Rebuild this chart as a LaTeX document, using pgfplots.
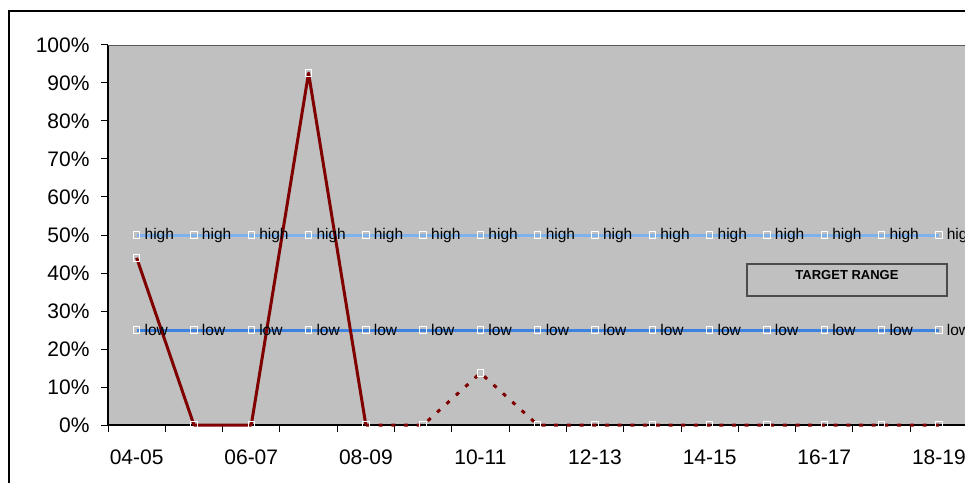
\documentclass[border=0pt]{standalone}
\usepackage{pgfplots}
\pgfplotsset{compat=1.18}
\usepackage{fontspec}
\setmainfont{Liberation Sans}
\definecolor{plotgray}{RGB}{192,192,192}
\definecolor{darkred}{RGB}{128,0,0}
\definecolor{highblue}{RGB}{125,178,236}
\definecolor{lowblue}{RGB}{60,130,225}
\begin{document}
\begin{tikzpicture}[x=1pt,y=1pt]
\path[use as bounding box] (0,0) rectangle (965,482);
\clip (0,0) rectangle (965,482);
\fill[white] (0,0) rectangle (965,482);
\draw[black, line width=2pt] (9,-20) rectangle (1100,471);
\begin{axis}[
  at={(108pt,57pt)}, anchor=south west,
  scale only axis, width=859.5pt, height=380pt,
  xmin=-0.5, xmax=14.5, ymin=0, ymax=100,
  clip=false,
  axis x line*=bottom, axis y line*=left,
  axis line style={black, line width=1.3pt},
  axis background/.style={fill=plotgray},
  tick align=outside,
  major tick length=7pt,
  tick style={black, line width=1pt},
  xtick={-0.5,0.5,...,14.5},
  xticklabels={},
  extra x ticks={0,2,4,6,8,10,12,14},
  extra x tick labels={04-05,06-07,08-09,10-11,12-13,14-15,16-17,18-19},
  extra x tick style={major tick length=0pt, tick label style={yshift=-21pt, text height=15pt, text depth=0pt}},
  ytick={0,10,...,100},
  yticklabel={\pgfmathprintnumber{\tick}\%},
  yticklabel style={xshift=-8pt},
  /pgf/number format/assume math mode=true,
  tick label style={font=\fontsize{21}{25}\selectfont},
  every axis plot/.append style={line join=round},
]
% high
\addplot[highblue, line width=3pt, mark=square, mark size=3.2pt,
  mark options={draw=white, fill=none, line width=1pt, solid},
  nodes near coords={high}, every node near coord/.style={anchor=west, xshift=7.5pt, inner sep=0pt, font=\fontsize{15.5}{18}\selectfont, text=black}]
  coordinates {(0,50)(1,50)(2,50)(3,50)(4,50)(5,50)(6,50)(7,50)(8,50)(9,50)(10,50)(11,50)(12,50)(13,50)(14,50)};
% low
\addplot[lowblue, line width=3pt, mark=square, mark size=3.2pt,
  mark options={draw=white, fill=none, line width=1pt, solid},
  nodes near coords={low}, every node near coord/.style={anchor=west, xshift=7.5pt, inner sep=0pt, font=\fontsize{15.5}{18}\selectfont, text=black}]
  coordinates {(0,25)(1,25)(2,25)(3,25)(4,25)(5,25)(6,25)(7,25)(8,25)(9,25)(10,25)(11,25)(12,25)(13,25)(14,25)};
% red dotted
\addplot[darkred, line width=3pt, dash pattern=on 4pt off 8.7pt, mark=square, mark size=3.2pt,
  mark options={draw=white, fill=none, line width=1pt, solid}]
  coordinates {(4,0)(5,0)(6,13.7)(7,0)(8,0)(9,0)(10,0)(11,0)(12,0)(13,0)(14,0)};
% red solid
\addplot[darkred, line width=3pt, mark=square, mark size=3.2pt,
  mark options={draw=white, fill=none, line width=1pt, solid}]
  coordinates {(0,44)(1,0)(2,0)(3,92.6)(4,0)};
\draw[gray!70!black, line width=0.8pt] (rel axis cs:0,1) -- (rel axis cs:1,1);
\end{axis}
\draw[black!70, line width=1.5pt] (747,186) rectangle (947,218);
\node[font=\fontsize{13}{15}\selectfont\bfseries] at (847,207) {TARGET RANGE};
\end{tikzpicture}
\end{document}
